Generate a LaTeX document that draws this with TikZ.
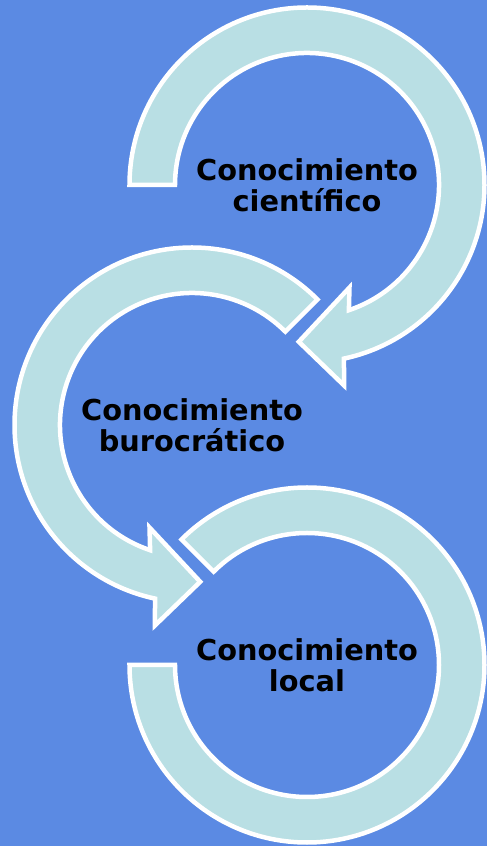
\documentclass[tikz,border=0pt]{standalone}
\usepackage{fontspec}
\setmainfont{DejaVu Sans}
\definecolor{bgblue}{RGB}{91,138,227}
\definecolor{ringfill}{RGB}{185,223,228}

\begin{document}
\begin{tikzpicture}[x=1pt, y=1pt,
  ring/.style={fill=ringfill, draw=white, line width=4.5pt},
  knowtext/.style={align=center, inner sep=0pt, text=black,
    font=\fontsize{28.8}{31}\selectfont\bfseries}]
  % 背景
  \useasboundingbox (0,0) rectangle (487,846);
  \fill[bgblue] (0,0) rectangle (487,846);

  % 上の矢印
  \begin{scope}[shift={(307,661)}]
    \draw[ring] (180:177.5) arc[start angle=180, end angle=-78, radius=177.5]
      -- (-79.5:204) -- (-93:157) -- (-67.5:111) -- (-71.5:132)
      arc[start angle=-71.5, end angle=180, radius=132] -- cycle;
  \end{scope}

  % 中の矢印
  \begin{scope}[shift={(192,421)}]
    \draw[ring] (45:177.5) arc[start angle=45, end angle=258, radius=177.5]
      -- (259.5:204) -- (273:157) -- (247.5:111) -- (251.5:132)
      arc[start angle=251.5, end angle=45, radius=132] -- cycle;
  \end{scope}

  % 下の輪(矢印なし)
  \begin{scope}[shift={(307,181)}]
    \draw[ring] (180:177.5) arc[start angle=180, end angle=495, radius=177.5]
      -- (495:132) arc[start angle=495, end angle=180, radius=132] -- cycle;
  \end{scope}

  % ラベル
  \node[knowtext] (cientifico) at (307,661) {Conocimiento\\científico};
  \node[knowtext] (burocratico) at (192,421) {Conocimiento\\burocrático};
  \node[knowtext] (local) at (307,181) {Conocimiento\\local};
\end{tikzpicture}
\end{document}
